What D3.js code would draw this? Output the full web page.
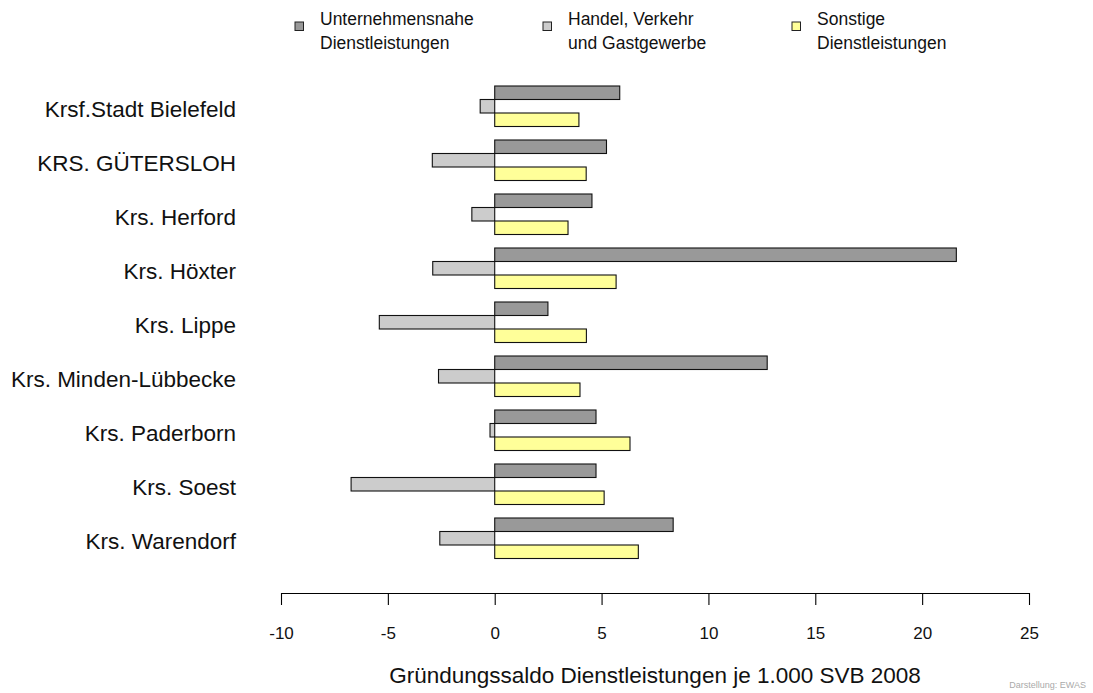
<!DOCTYPE html>
<html>
<head>
<meta charset="utf-8">
<script src="https://cdn.jsdelivr.net/npm/d3@7"></script>
<style>
  html, body { margin: 0; padding: 0; background: #fff; }
  svg { display: block; font-family: "Liberation Sans", Arial, Helvetica, sans-serif; }
</style>
</head>
<body>
<svg id="chart" width="1093" height="693"></svg>
<script>
// ---- data ----
const categories = [
  "Krsf.Stadt Bielefeld",
  "KRS. GÜTERSLOH",
  "Krs. Herford",
  "Krs. Höxter",
  "Krs. Lippe",
  "Krs. Minden-Lübbecke",
  "Krs. Paderborn",
  "Krs. Soest",
  "Krs. Warendorf"
];
const seriesKeys = ["unternehmensnahe", "handel", "sonstige"];
const seriesLabels = [
  ["Unternehmensnahe", "Dienstleistungen"],
  ["Handel, Verkehr", "und Gastgewerbe"],
  ["Sonstige", "Dienstleistungen"]
];
const unternehmensnahe = [5.85, 5.23, 4.55, 21.6, 2.49, 12.75, 4.74, 4.74, 8.35];
const handel          = [-0.68, -2.92, -1.07, -2.9, -5.4, -2.63, -0.22, -6.72, -2.57];
const sonstige        = [3.94, 4.28, 3.43, 5.68, 4.29, 3.99, 6.33, 5.12, 6.72];
const xTicks = [-10, -5, 0, 5, 10, 15, 20, 25];
const xTitle = "Gründungssaldo Dienstleistungen je 1.000 SVB 2008";
const credit = "Darstellung: EWAS";
const colors = ["#999999", "#cccccc", "#ffff99"];

const seriesValues = [unternehmensnahe, handel, sonstige];
const rows = categories.map((c, i) => ({
  cat: c,
  vals: seriesKeys.map((k, j) => ({ key: k, idx: j, v: seriesValues[j][i] }))
}));

// ---- layout ----
const svg = d3.select("#chart");
const x = d3.scaleLinear().domain([-10, 25]).range([281, 1029]);
const y = d3.scaleBand().domain(categories).range([79.25, 565.25])
  .paddingInner(0.25).paddingOuter(0.125);
const ys = d3.scaleBand().domain(seriesKeys).range([0, y.bandwidth()]);

// bars
const g = svg.append("g");
const groups = g.selectAll("g.row").data(rows).join("g")
  .attr("class", "row")
  .attr("transform", d => `translate(0,${y(d.cat)})`);
groups.selectAll("rect").data(d => d.vals).join("rect")
  .attr("x", d => x(Math.min(0, d.v)))
  .attr("y", d => ys(d.key))
  .attr("width", d => Math.abs(x(d.v) - x(0)))
  .attr("height", ys.bandwidth())
  .attr("fill", d => colors[d.idx])
  .attr("stroke", "#111")
  .attr("stroke-width", 1.1);

// category labels
svg.append("g").selectAll("text").data(categories).join("text")
  .attr("x", 236)
  .attr("y", d => y(d) + y.bandwidth() / 2 + 10.3)
  .attr("text-anchor", "end")
  .attr("font-size", 22.5)
  .attr("fill", "#111")
  .text(d => d);

// x axis
const axis = svg.append("g")
  .attr("transform", "translate(0,593)")
  .call(d3.axisBottom(x).tickValues(xTicks).tickSize(12).tickSizeOuter(0).tickPadding(22)
        .tickFormat(d3.format("d")));
axis.select(".domain").attr("stroke", "#000").attr("stroke-width", 1.1);
axis.selectAll(".tick line").attr("stroke", "#000").attr("stroke-width", 1.1);
axis.selectAll(".tick text")
  .attr("font-size", 17)
  .attr("font-family", "Liberation Sans, Arial, sans-serif")
  .attr("fill", "#111")
  .text(d => d < 0 ? "-" + Math.abs(d) : String(d));

svg.append("text")
  .attr("x", (x(-10) + x(25)) / 2)
  .attr("y", 683)
  .attr("text-anchor", "middle")
  .attr("font-size", 22.5)
  .attr("fill", "#111")
  .text(xTitle);

svg.append("text")
  .attr("x", 1086)
  .attr("y", 688)
  .attr("text-anchor", "end")
  .attr("font-size", 9)
  .attr("fill", "#aaaaaa")
  .text(credit);

// legend
const legendX = [295, 543, 792];
const leg = svg.append("g").selectAll("g").data(seriesLabels).join("g")
  .attr("transform", (d, i) => `translate(${legendX[i]},0)`);
leg.append("rect")
  .attr("x", 0).attr("y", 22).attr("width", 8.5).attr("height", 8.5)
  .attr("fill", (d, i) => colors[i])
  .attr("stroke", "#222").attr("stroke-width", 1);
leg.selectAll("text").data(d => d).join("text")
  .attr("x", 25)
  .attr("y", (d, i) => 25 + i * 23.5)
  .attr("font-size", 17.5)
  .attr("fill", "#111")
  .text(d => d);
</script>
</body>
</html>
